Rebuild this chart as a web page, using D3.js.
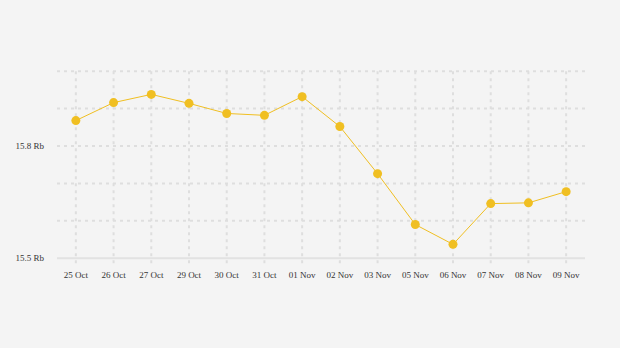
<!DOCTYPE html>
<html><head><meta charset="utf-8">
<script src="https://cdn.jsdelivr.net/npm/d3@7/dist/d3.min.js"></script>
<style>
html,body{margin:0;padding:0;background:#f4f4f4;}
svg{display:block;}
text{font-family:"Liberation Serif","DejaVu Serif",serif;font-size:9px;fill:#333;}
</style></head><body>
<svg id="c" width="620" height="348"></svg>
<script>
const dates = ["25 Oct","26 Oct","27 Oct","29 Oct","30 Oct","31 Oct","01 Nov","02 Nov","03 Nov","05 Nov","06 Nov","07 Nov","08 Nov","09 Nov"];
const values = [15.868,15.916,15.938,15.914,15.887,15.882,15.932,15.852,15.726,15.590,15.537,15.646,15.648,15.678];
const gridTicks = [15.5,15.6,15.7,15.8,15.9,16.0];
const labelTicks = [15.5,15.8];
const unit = " Rb";

const svg = d3.select("#c");
const x = d3.scalePoint().domain(dates).range([57,585]).padding(0.5);
const y = d3.scaleLinear().domain([15.5,16.0]).range([258.2,71.2]);

const grid = svg.append("g");
grid.selectAll("line.h").data(gridTicks).join("line")
  .attr("x1",57).attr("x2",585)
  .attr("y1",d=>y(d)).attr("y2",d=>y(d))
  .attr("stroke",d=>d===15.5?"#e2e2e2":"#dedede")
  .attr("stroke-width",2)
  .attr("stroke-dasharray",d=>d===15.5?null:"3,4");
grid.selectAll("line.v").data(dates).join("line")
  .attr("x1",d=>x(d)).attr("x2",d=>x(d))
  .attr("y1",y(16.0)).attr("y2",y(15.5)+6)
  .attr("stroke","#dedede").attr("stroke-width",2)
  .attr("stroke-dasharray","3,4");

svg.append("g").selectAll("text").data(labelTicks).join("text")
  .attr("x",44).attr("y",d=>y(d)).attr("dy","0.35em")
  .attr("text-anchor","end").text(d=>d.toFixed(1)+unit);

svg.append("g").selectAll("text").data(dates).join("text")
  .attr("x",d=>x(d)).attr("y",278)
  .attr("text-anchor","middle").text(d=>d);

const pts = dates.map((d,i)=>({d,v:values[i]}));
svg.append("path").datum(pts)
  .attr("fill","none").attr("stroke","#f0bf22").attr("stroke-width",1)
  .attr("d",d3.line().x(p=>x(p.d)).y(p=>y(p.v)));
svg.append("g").selectAll("circle").data(pts).join("circle")
  .attr("cx",p=>x(p.d)).attr("cy",p=>y(p.v)).attr("r",4.5)
  .attr("fill","#f0bf22");
</script></body></html>
